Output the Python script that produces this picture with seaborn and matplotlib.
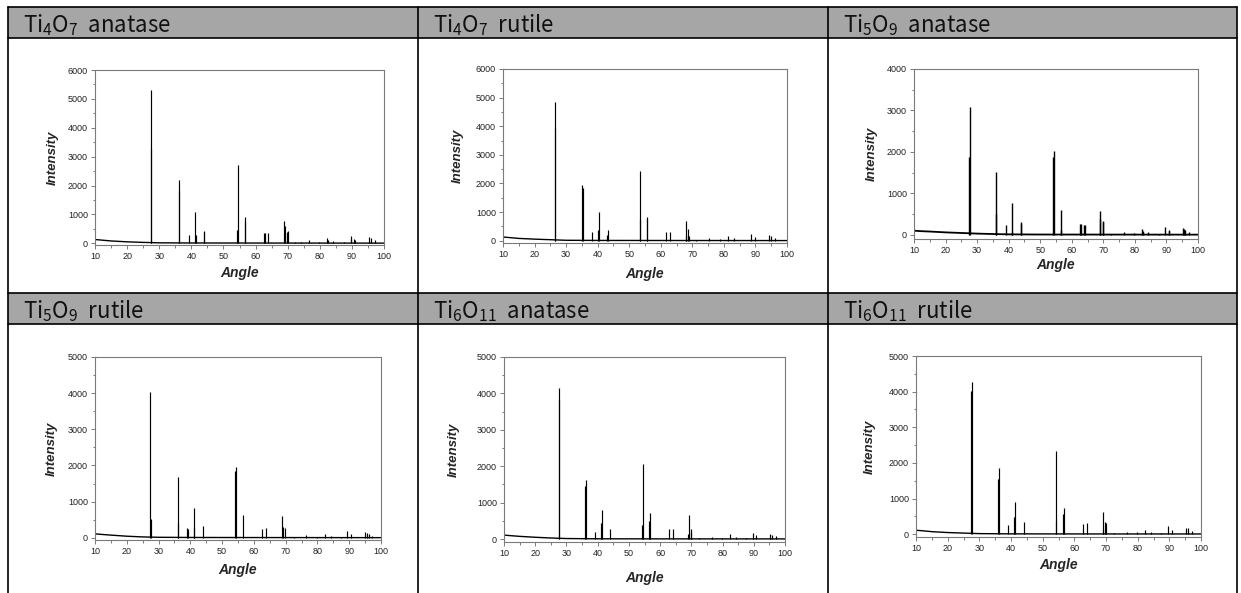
import matplotlib
matplotlib.use("Agg")
import matplotlib.pyplot as plt
from matplotlib.patches import Rectangle
from matplotlib.ticker import MultipleLocator
import pandas as pd
import seaborn as sns

# ---------------- data ----------------
TITLES = [r"$\mathregular{Ti_4O_7}$  anatase", r"$\mathregular{Ti_4O_7}$  rutile",
          r"$\mathregular{Ti_5O_9}$  anatase", r"$\mathregular{Ti_5O_9}$  rutile",
          r"$\mathregular{Ti_6O_{11}}$  anatase", r"$\mathregular{Ti_6O_{11}}$  rutile"]
Y_MAX = [6000, 6000, 4000, 5000, 5000, 5000]
Y_MIN = [-60, -80, -100, -60, -80, -80]

# Ti4O7 anatase
T4A_BASE_X = [10, 12, 15, 20, 25, 27, 30, 40, 60, 100]
T4A_BASE_Y = [130, 110, 80, 50, 30, 25, 15, 10, 8, 5]
T4A_PEAK_X = [27.4, 27.5, 36.1, 36.2, 39.2, 41.2, 41.3, 44.0, 44.1, 54.3, 54.4, 56.6, 56.7,
              62.7, 62.9, 64.0, 69.0, 69.1, 69.8, 70.0, 72.4, 74.0, 76.5, 79.8, 82.3, 82.5,
              84.2, 87.5, 89.6, 89.8, 90.7, 91.0, 95.3, 95.8, 97.2]
T4A_PEAK_Y = [3250, 5300, 2200, 1800, 300, 1100, 280, 420, 380, 450, 2700, 900, 720,
              360, 350, 340, 780, 600, 380, 420, 30, 30, 120, 50, 180, 120,
              90, 50, 250, 150, 150, 130, 200, 170, 100]

# Ti4O7 rutile
T4R_BASE_X = [10, 12, 15, 20, 25, 30, 40, 60, 100]
T4R_BASE_Y = [130, 110, 80, 55, 35, 15, 10, 8, 5]
T4R_PEAK_X = [26.5, 26.6, 35.0, 35.2, 38.1, 40.1, 40.3, 43.1, 43.2, 53.3, 53.4, 55.5, 55.6,
              61.6, 62.9, 67.9, 68.0, 68.7, 68.9, 71.3, 75.3, 78.7, 81.3, 83.3, 88.5, 89.8,
              94.3, 95.0, 96.3]
T4R_PEAK_Y = [3950, 4850, 1950, 1850, 300, 380, 1000, 200, 380, 2450, 750, 820, 750,
              300, 300, 680, 150, 420, 180, 30, 90, 60, 160, 80, 230, 130,
              200, 160, 110]

# Ti5O9 anatase
T5A_BASE_X = [10, 12, 15, 20, 25, 27, 30, 35, 40, 50, 100]
T5A_BASE_Y = [100, 90, 80, 60, 45, 40, 30, 20, 12, 8, 5]
T5A_PEAK_X = [27.4, 27.6, 36.0, 36.1, 39.1, 41.1, 41.2, 43.9, 44.0, 54.1, 54.3, 56.6, 56.7,
              62.7, 62.9, 63.9, 64.1, 69.0, 69.1, 69.8, 69.9, 72.5, 76.5, 79.8, 82.3, 82.5,
              84.2, 87.5, 89.5, 90.7, 90.9, 95.2, 95.5, 96.0, 97.1]
T5A_PEAK_Y = [1880, 3080, 500, 1510, 230, 80, 760, 310, 250, 1870, 2020, 600, 120,
              270, 260, 240, 230, 380, 570, 330, 320, 20, 80, 40, 150, 100,
              70, 30, 180, 110, 90, 160, 130, 120, 70]

# Ti5O9 rutile
T5R_BASE_X = [10, 12, 15, 20, 25, 30, 40, 60, 100]
T5R_BASE_Y = [110, 95, 75, 45, 25, 15, 10, 8, 5]
T5R_PEAK_X = [27.3, 27.5, 36.0, 36.1, 39.1, 39.2, 41.0, 41.2, 43.9, 54.2, 54.3, 56.5,
              62.7, 63.9, 69.0, 69.1, 69.7, 72.5, 76.5, 79.8, 82.3, 84.2, 87.4, 89.4, 90.6,
              95.1, 95.6, 96.1, 97.1]
T5R_PEAK_Y = [4030, 530, 400, 1680, 260, 250, 260, 820, 320, 1850, 1970, 620,
              250, 260, 590, 300, 280, 20, 70, 30, 110, 60, 20, 200, 100,
              160, 130, 100, 60]

# Ti6O11 anatase
T6A_BASE_X = [10, 12, 15, 20, 25, 30, 40, 60, 100]
T6A_BASE_Y = [110, 95, 75, 50, 30, 15, 8, 6, 5]
T6A_PEAK_X = [27.5, 27.6, 36.1, 36.2, 39.2, 41.2, 41.3, 44.0, 54.2, 54.4, 56.5, 56.7,
              62.8, 64.0, 69.0, 69.1, 69.8, 70.0, 72.5, 76.5, 79.9, 82.4, 84.3, 87.5, 89.6,
              90.8, 95.3, 95.9, 97.2]
T6A_PEAK_Y = [3850, 4150, 1450, 1620, 200, 450, 800, 280, 380, 2050, 500, 730,
              270, 280, 150, 650, 280, 200, 30, 60, 40, 150, 60, 30, 170,
              100, 150, 120, 80]

# Ti6O11 rutile
T6R_BASE_X = [10, 12, 15, 20, 25, 30, 40, 60, 100]
T6R_BASE_Y = [110, 95, 70, 45, 30, 15, 8, 6, 5]
T6R_PEAK_X = [27.4, 27.6, 36.0, 36.1, 39.1, 41.1, 41.3, 44.0, 54.2, 54.3, 56.5, 56.7,
              62.8, 64.0, 69.0, 69.2, 69.8, 70.0, 72.5, 76.6, 79.9, 82.4, 84.2, 87.4, 89.5,
              90.7, 95.2, 95.8, 97.1]
T6R_PEAK_Y = [4030, 4270, 1540, 1870, 270, 480, 910, 340, 370, 2330, 560, 730,
              280, 320, 150, 620, 340, 320, 30, 70, 50, 120, 70, 30, 220,
              120, 180, 160, 100]

BASE_X = [T4A_BASE_X, T4R_BASE_X, T5A_BASE_X, T5R_BASE_X, T6A_BASE_X, T6R_BASE_X]
BASE_Y = [T4A_BASE_Y, T4R_BASE_Y, T5A_BASE_Y, T5R_BASE_Y, T6A_BASE_Y, T6R_BASE_Y]
PEAK_X = [T4A_PEAK_X, T4R_PEAK_X, T5A_PEAK_X, T5R_PEAK_X, T6A_PEAK_X, T6R_PEAK_X]
PEAK_Y = [T4A_PEAK_Y, T4R_PEAK_Y, T5A_PEAK_Y, T5R_PEAK_Y, T6A_PEAK_Y, T6R_PEAK_Y]

# ---------------- layout (pixels) ----------------
W, H, DPI = 1241, 593, 100
# left, right, top, bottom of each plot frame
AX_BOX = [(95, 384, 70, 245), (503, 787, 69, 243), (914, 1198, 69, 239),
          (95, 381, 357, 540), (504, 785, 357, 542), (916, 1201, 356, 537)]
XLAB_OFF = [28, 31, 26, 30, 36, 28]     # px below frame bottom (label centre)
YLAB_OFF = [42, 45, 42, 43, 50, 46]     # px left of frame (label centre)
COL_X = [8, 418, 828, 1237]
ROW_TOP = [7, 293]
HEAD_H = 31
HEAD_GRAY = "#A6A6A6"

sns.set_theme(style="ticks")
plt.rcParams['font.family'] = ['Liberation Sans', 'DejaVu Sans']
plt.rcParams['mathtext.default'] = 'regular'

fig = plt.figure(figsize=(W / DPI, H / DPI), dpi=DPI)
fig.patch.set_facecolor("white")

# table background
bg = fig.add_axes([0, 0, 1, 1], zorder=-5)
bg.set_xlim(0, W)
bg.set_ylim(H, 0)
bg.axis("off")
for rt in ROW_TOP:
    bg.add_patch(Rectangle((COL_X[0], rt), COL_X[-1] - COL_X[0], HEAD_H,
                           facecolor=HEAD_GRAY, edgecolor="none"))
    bg.plot([COL_X[0], COL_X[-1]], [rt, rt], color="black", lw=1.2)
    bg.plot([COL_X[0], COL_X[-1]], [rt + HEAD_H, rt + HEAD_H], color="black", lw=1.2)
for cx in COL_X:
    bg.plot([cx, cx], [ROW_TOP[0], H], color="black", lw=1.2)
for i, t in enumerate(TITLES):
    r, c = divmod(i, 3)
    bg.text(COL_X[c] + 15, ROW_TOP[r] + 25, t, fontsize=16, ha="left", va="baseline",
            family=["Noto Sans CJK KR", "DejaVu Sans"], color="#111111")

for i in range(6):
    l, rr, t, b = AX_BOX[i]
    ax = fig.add_axes([l / W, 1 - b / H, (rr - l) / W, (b - t) / H])
    df = pd.DataFrame({"Angle": BASE_X[i], "Intensity": BASE_Y[i]})
    sns.lineplot(data=df, x="Angle", y="Intensity", ax=ax, color="black",
                 lw=1.3 if i == 2 else 1.0)
    ax.vlines(PEAK_X[i], 0, PEAK_Y[i], color="black", lw=1.0 if i == 2 else 0.85)
    ax.set_xlim(10, 100)
    ax.set_ylim(Y_MIN[i], Y_MAX[i])
    ax.xaxis.set_major_locator(MultipleLocator(10))
    ax.xaxis.set_minor_locator(MultipleLocator(5))
    ax.yaxis.set_major_locator(MultipleLocator(1000))
    ax.yaxis.set_minor_locator(MultipleLocator(500))
    ax.tick_params(which="both", direction="out", left=True, bottom=True, top=False,
                   right=False, color="#666666", width=0.6, labelcolor="#222222",
                   labelsize=6.5, pad=2)
    ax.tick_params(which="major", length=3)
    ax.tick_params(which="minor", length=1.8)
    for sp in ax.spines.values():
        sp.set_visible(True)
        sp.set_color("#7a7a7a")
        sp.set_linewidth(0.8)
    ax.set_xlabel("Angle", fontsize=10, fontweight="bold", fontstyle="italic",
                  va="center")
    ax.set_ylabel("Intensity", fontsize=9.5, fontweight="bold", fontstyle="italic",
                  va="center")
    ax.xaxis.set_label_coords(0.5, -XLAB_OFF[i] / (b - t))
    ax.yaxis.set_label_coords(-YLAB_OFF[i] / (rr - l), 0.5)
    ax.set_facecolor("white")

fig.savefig("out.png", dpi=DPI)
